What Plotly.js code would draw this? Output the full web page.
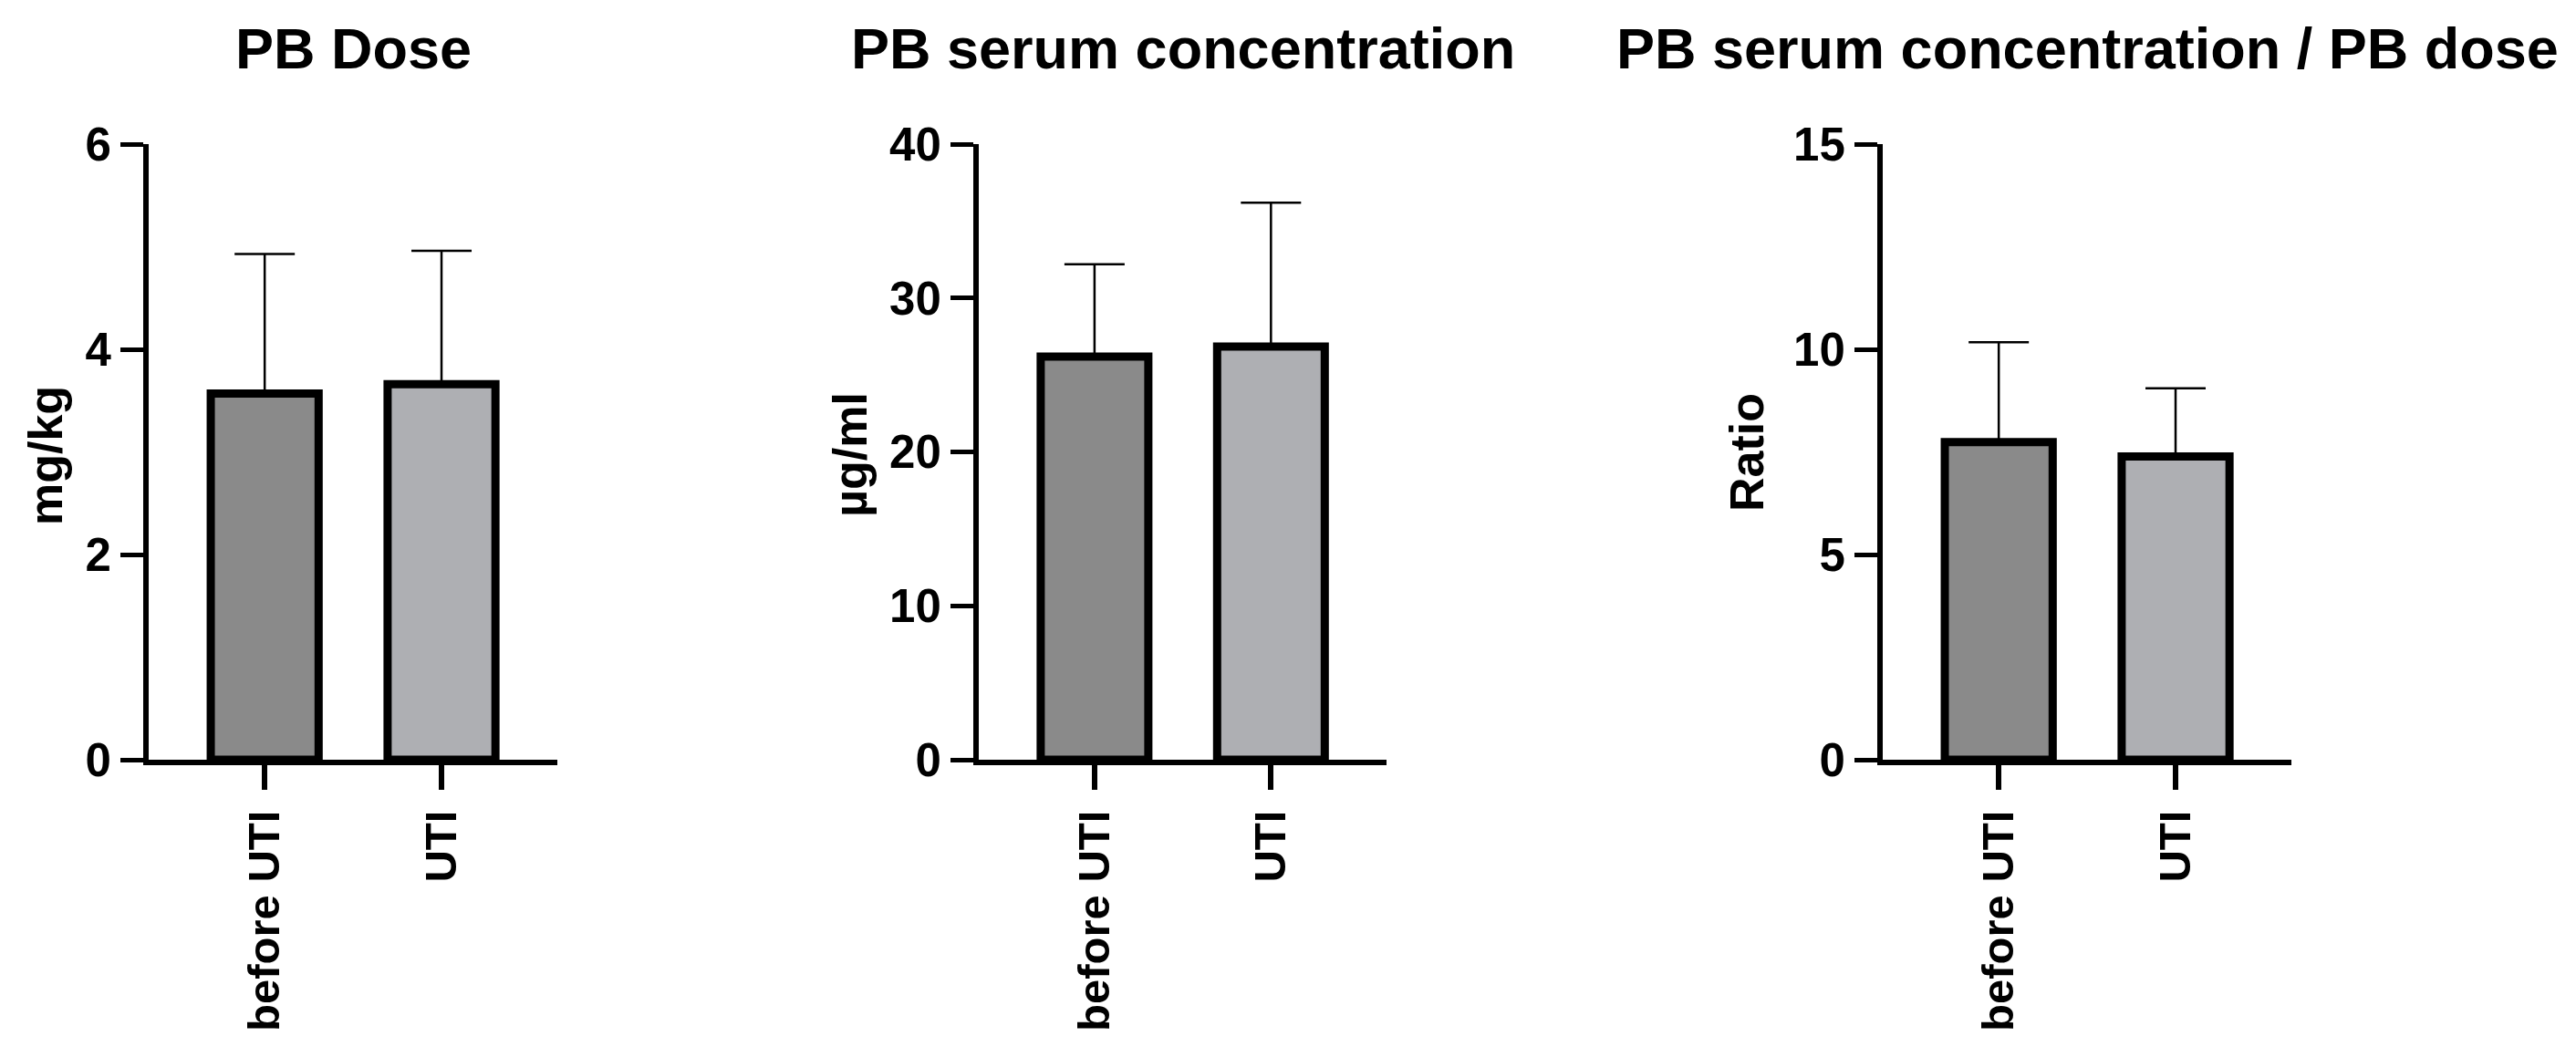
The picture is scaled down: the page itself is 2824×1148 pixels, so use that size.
<!DOCTYPE html>
<html>
<head>
<meta charset="utf-8">
<script src="https://cdn.plot.ly/plotly-3.0.1.min.js"></script>
<style>html,body{margin:0;padding:0;background:#fff;}#chart{width:2824px;height:1148px;}</style>
</head>
<body>
<div id="chart"></div>
<script>
// ---- data ----
const categories = ["before UTI", "UTI"];
const barColors = ["#8a8a8a", "#aeafb3"];

const doseMean = [3.57, 3.66];
const doseSD = [1.36, 1.30];

const serumMean = [26.2, 26.85];
const serumSD = [6.0, 9.35];

const ratioMean = [7.74, 7.39];
const ratioSD = [2.43, 1.66];

const panelTitles = ["PB Dose", "PB serum concentration", "PB serum concentration / PB dose"];
const yTitles = ["mg/kg", "µg/ml", "Ratio"];
const yMax = [6, 40, 15];
const yTickStep = [2, 10, 5];

// ---- layout helpers (pixels -> paper) ----
const W = 2824, H = 1148;
const px = v => v / W;
const py = v => 1 - v / H;
const FONT = "Liberation Sans, Arial, Helvetica, sans-serif";

const plotLeft = [163, 1073, 2064];
const plotRight = [611, 1520, 2512];
const plotTop = 158, plotBottom = 833;
const yTitleX = [50, 932, 1915];
const yTitleY = [500, 499, 496];

const means = [doseMean, serumMean, ratioMean];
const sds = [doseSD, serumSD, ratioSD];

const traces = [];
const layout = {
  width: W, height: H,
  margin: {l: 0, r: 0, t: 0, b: 0},
  paper_bgcolor: "#fff", plot_bgcolor: "#fff",
  showlegend: false,
  font: {family: FONT, color: "#000", weight: 700},
  annotations: []
};

for (let i = 0; i < 3; i++) {
  const sfx = i === 0 ? "" : String(i + 1);
  traces.push({
    type: "bar",
    x: categories,
    y: means[i],
    xaxis: "x" + sfx,
    yaxis: "y" + sfx,
    width: 0.61,
    marker: {color: barColors, line: {color: "#000", width: 9}},
    error_y: {
      type: "data", symmetric: false, array: sds[i], arrayminus: [0, 0],
      color: "#000", thickness: 2.5, width: 33
    },
    hoverinfo: "skip"
  });
  layout["xaxis" + sfx] = {
    domain: [px(plotLeft[i]), px(plotRight[i])],
    anchor: "y" + sfx,
    range: [-0.656, 1.655],
    type: "category",
    showline: true, linecolor: "#000", linewidth: 6,
    ticks: "outside", ticklen: 27, tickwidth: 6, tickcolor: "#000",
    tickangle: -90,
    tickfont: {family: FONT, size: 49, color: "#000", weight: 700},
    ticklabelstandoff: 3,
    showgrid: false, zeroline: false, fixedrange: true
  };
  layout["yaxis" + sfx] = {
    domain: [py(plotBottom), py(plotTop)],
    anchor: "x" + sfx,
    range: [0, yMax[i]],
    dtick: yTickStep[i], tick0: 0,
    showline: true, linecolor: "#000", linewidth: 6,
    ticks: "outside", ticklen: 25, tickwidth: 5, tickcolor: "#000",
    tickfont: {family: FONT, size: 51, color: "#000", weight: 700},
    ticklabelstandoff: 0,
    showgrid: false, zeroline: false, fixedrange: true
  };
  layout.annotations.push({
    text: panelTitles[i], xref: "paper", yref: "paper",
    x: px((plotLeft[i] + plotRight[i]) / 2), y: py(53),
    xanchor: "center", yanchor: "middle", showarrow: false,
    font: {family: FONT, size: 63, color: "#000", weight: 700}
  });
  layout.annotations.push({
    text: yTitles[i], xref: "paper", yref: "paper",
    x: px(yTitleX[i]), y: py(yTitleY[i]), textangle: -90,
    xanchor: "center", yanchor: "middle", showarrow: false,
    font: {family: FONT, size: 52, color: "#000", weight: 700}
  });
}

Plotly.newPlot("chart", traces, layout, {displayModeBar: false, staticPlot: true});
</script>
</body>
</html>
